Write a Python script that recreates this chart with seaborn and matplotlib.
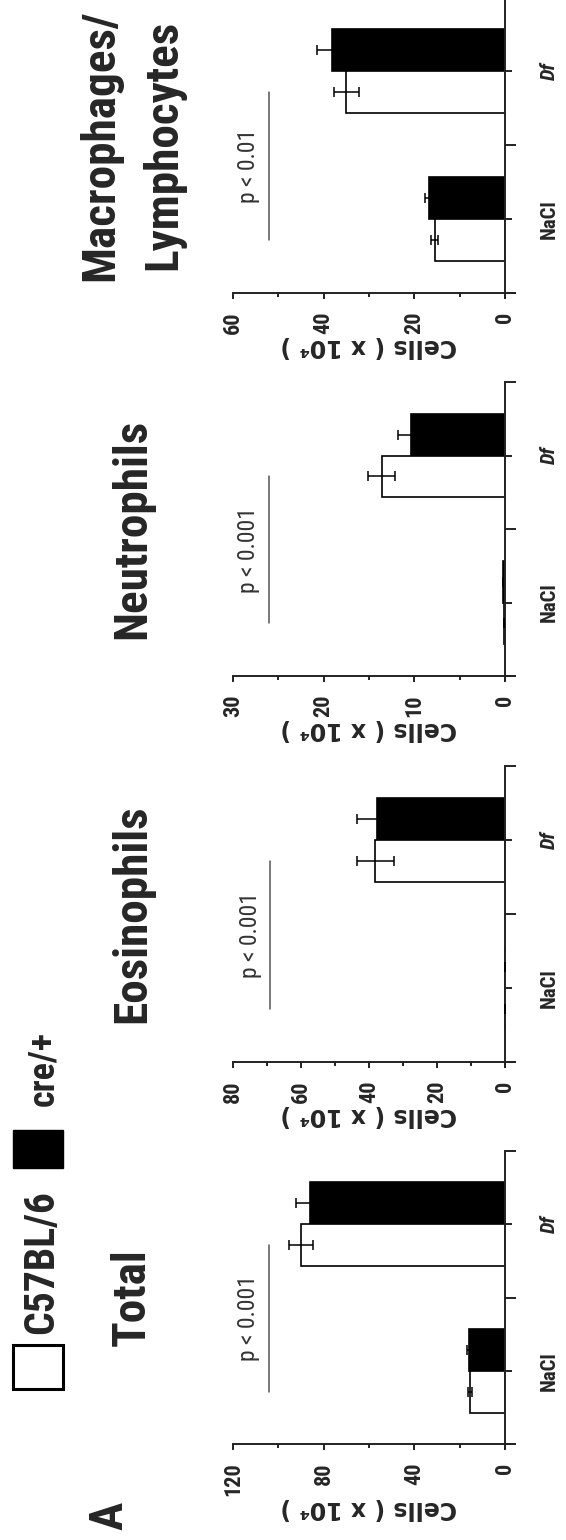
import numpy as np
import pandas as pd
import matplotlib
matplotlib.use('Agg')
import matplotlib.pyplot as plt
import seaborn as sns
from matplotlib import font_manager
from matplotlib.patches import Rectangle

# %%

# Values (cells x 10^4, mean and error)

treatments = ['NaCl', 'Df']
strains = ['C57BL/6', 'cre/+']
panels = ['Total', 'Eosinophils', 'Neutrophils', 'Macrophages/\nLymphocytes']

wt_mean = {'Total': [15.5, 90.0], 'Eosinophils': [0.0, 38.1],
           'Neutrophils': [0.1, 13.6], 'Macrophages/\nLymphocytes': [15.5, 35.0]}
wt_err = {'Total': [1.0, 5.3], 'Eosinophils': [0.0, 5.4],
          'Neutrophils': [0.0, 1.5], 'Macrophages/\nLymphocytes': [0.8, 2.7]}
cre_mean = {'Total': [16.0, 86.0], 'Eosinophils': [0.0, 37.5],
            'Neutrophils': [0.25, 10.4], 'Macrophages/\nLymphocytes': [16.8, 38.2]}
cre_err = {'Total': [0.6, 6.3], 'Eosinophils': [0.0, 6.0],
           'Neutrophils': [0.0, 1.4], 'Macrophages/\nLymphocytes': [0.8, 3.2]}

axis_max = [120, 80, 30, 60]
label_step = [40, 20, 10, 20]
tick_step = [20, 10, 5, 10]

p_labels = ['p < 0.001', 'p < 0.001', 'p < 0.001', 'p < 0.01']
p_line_at = [104, 69, 26, 52]

# %%

sns.set_style('ticks')

# pick a narrow sans that has both regular and bold faces
weights = {}
for f in font_manager.fontManager.ttflist:
    weights.setdefault(f.name, set()).add(f.weight)
narrow = 'Liberation Sans'
for cand in ['Liberation Sans Narrow', 'Archivo Narrow', 'Roboto Condensed',
             'PT Sans Narrow', 'Fira Sans Condensed']:
    w = weights.get(cand, set())
    if 400 in w and 700 in w:
        narrow = cand
        break
NF = [narrow, 'DejaVu Sans']
WF = ['DejaVu Sans']

W, H = 566, 1540
fig = plt.figure(figsize=(W / 100, H / 100), dpi=100)


def fx(px):
    return px / W


def fy(py):
    return 1 - py / H


# pixel rows (top, bottom) of each panel, bottom panel first
panel_rows = [(1151, 1444), (766, 1062), (382, 676), (-3, 293)]
x_left, x_zero = 233, 505

for i, name in enumerate(panels):
    top, bot = panel_rows[i]
    ax = fig.add_axes([fx(x_left), fy(bot), fx(x_zero - x_left), (bot - top) / H])

    df = pd.DataFrame({
        'treatment': treatments * 2,
        'strain': [strains[0]] * 2 + [strains[1]] * 2,
        'cells': wt_mean[name] + cre_mean[name],
    })
    err = {(t, strains[0]): e for t, e in zip(treatments, wt_err[name])}
    err.update({(t, strains[1]): e for t, e in zip(treatments, cre_err[name])})

    order = ['Df', 'NaCl']
    sns.barplot(data=df, x='cells', y='treatment', hue='strain', order=order,
                hue_order=['cre/+', 'C57BL/6'],
                palette={'C57BL/6': 'white', 'cre/+': 'black'},
                edgecolor='black', linewidth=1.2, width=0.57, saturation=1,
                errorbar=None, legend=False, ax=ax, zorder=2)

    # error bars on the bar ends
    white_y = []
    for p in ax.patches:
        cy = p.get_y() + p.get_height() / 2
        k = int(round(cy))
        strain = 'cre/+' if cy < k else 'C57BL/6'
        if strain == 'C57BL/6':
            white_y.append(cy)
        ax.errorbar(p.get_width(), cy, xerr=err[(order[k], strain)], fmt='none',
                    ecolor='black', elinewidth=1.1, capsize=3.5, capthick=1.1,
                    zorder=3)

    vmax = axis_max[i]
    ax.set_xlim(vmax, 0)
    ax.set_ylim(1.5, -0.5)
    ax.set_xticks(np.arange(0, vmax + 1, label_step[i]))
    ax.set_xticks(np.arange(0, vmax + 1, tick_step[i]), minor=True)
    ax.set_yticks([0, 1])
    ax.set_yticks([-0.5, 0.5, 1.5], minor=True)
    ax.yaxis.tick_right()

    for s in ['top', 'left']:
        ax.spines[s].set_visible(False)
    for s in ['bottom', 'right']:
        ax.spines[s].set_linewidth(1.4)
        ax.spines[s].set_color('#222222')
    ax.spines['bottom'].set_bounds(-0.035 * vmax, vmax)
    ax.spines['right'].set_bounds(-0.5, 1.535)

    ax.tick_params(axis='x', which='major', length=4.5, width=1.4, color='#222222', pad=9)
    ax.tick_params(axis='x', which='minor', length=3, width=1.4, color='#222222')
    ax.tick_params(axis='y', which='major', length=5, width=1.4, color='#222222', pad=20)
    ax.tick_params(axis='y', which='minor', length=8, width=1.4, color='#222222')

    ax.set_xticklabels([str(v) for v in ax.get_xticks().astype(int)],
                       rotation=90, family=NF, weight='bold', fontsize=16)
    ax.set_yticklabels(order, rotation=90, family=NF, weight='bold', fontsize=15,
                       va='center')
    ax.get_yticklabels()[0].set_style('italic')

    ax.set_ylabel('')
    ax.set_xlabel('Cells ( x 10\u2074 )', family=WF, weight='bold', fontsize=17,
                  rotation=180, labelpad=0)

    # significance bar and p value
    y0, y1 = min(white_y), max(white_y)
    ax.plot([p_line_at[i], p_line_at[i]], [y0, y1], color='#555555', lw=1.1,
            clip_on=False)
    ax.annotate(p_labels[i], xy=(p_line_at[i], (y0 + y1) / 2),
                xytext=(-10, 0), textcoords='offset points', rotation=90,
                rotation_mode='anchor', ha='center', va='baseline',
                family=NF, fontsize=17, color='#333333')

    # panel title
    lines = name.split('\n')
    for j, line in enumerate(lines):
        bx = 145 + 63 * (j - (len(lines) - 1) / 2)
        fig.text(fx(bx), fy((top + bot) / 2), line, rotation=90,
                 rotation_mode='anchor', ha='center', va='baseline',
                 family=NF, weight='bold', fontsize=34)

# %%

# legend and panel letter

fig.add_artist(Rectangle((fx(13), fy(1389)), fx(50), 44 / H, facecolor='white',
                         edgecolor='black', lw=2.2, transform=fig.transFigure))
fig.text(fx(53), fy(1262), strains[0], rotation=90, rotation_mode='anchor',
         ha='center', va='baseline', family=NF, weight='bold', fontsize=30)
fig.add_artist(Rectangle((fx(13), fy(1168)), fx(50), 38 / H, facecolor='black',
                         edgecolor='black', lw=1, transform=fig.transFigure))
fig.text(fx(53), fy(1068), strains[1], rotation=90, rotation_mode='anchor',
         ha='center', va='baseline', family=NF, weight='bold', fontsize=26)
fig.text(fx(122), fy(1516), 'A', rotation=90, rotation_mode='anchor',
         ha='center', va='baseline', family=NF, weight='bold', fontsize=34)

fig.savefig('out.png', dpi=100)
